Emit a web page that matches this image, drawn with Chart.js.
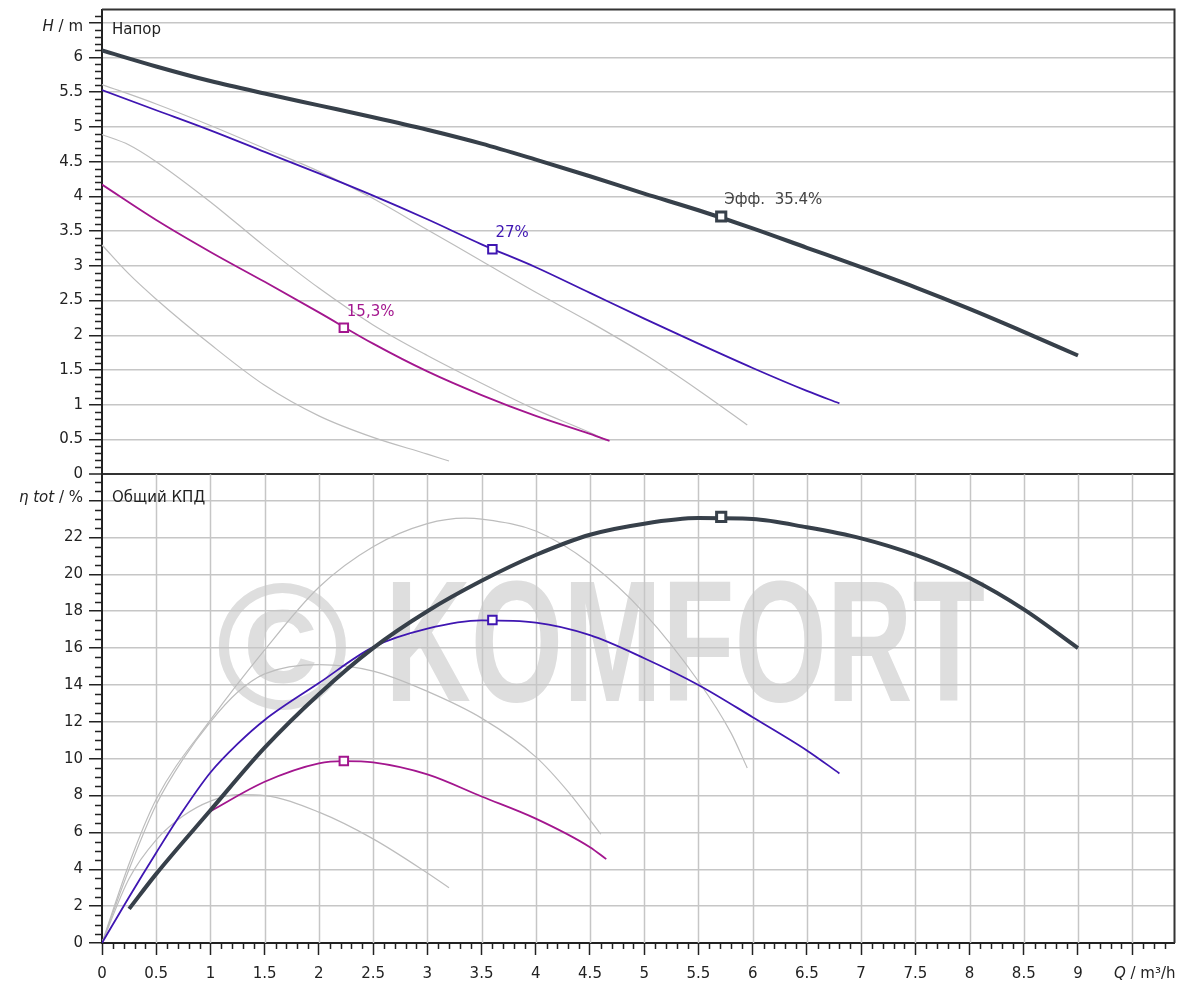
<!DOCTYPE html>
<html>
<head>
<meta charset="utf-8">
<title>Pump curves</title>
<script src="https://cdn.jsdelivr.net/npm/chart.js@4.4.1/dist/chart.umd.min.js"></script>
<style>
  html, body { margin: 0; padding: 0; background: #fff; }
  #wrap { width: 1184px; height: 987px; position: relative; }
</style>
</head>
<body>
<div id="wrap"><canvas id="pumpChart"></canvas></div>
<script>
// head curves, H in m against Q in m³/h
const qDarkH = [0, 0.5, 1, 1.5, 2, 2.5, 3, 3.5, 4, 4.5, 5, 5.5, 6, 6.5, 7, 7.5, 8, 8.5, 9];
const hDark  = [6.1, 5.87, 5.66, 5.48, 5.31, 5.14, 4.96, 4.76, 4.53, 4.29, 4.04, 3.8, 3.54, 3.26, 2.98, 2.69, 2.38, 2.05, 1.71];
const qBlueH = [0, 0.5, 1, 1.5, 2, 2.5, 3, 3.5, 4, 4.5, 5, 5.5, 6, 6.5, 6.8];
const hBlue  = [5.53, 5.24, 4.95, 4.64, 4.33, 4.01, 3.67, 3.31, 2.98, 2.61, 2.24, 1.88, 1.53, 1.2, 1.02];
const qMagH  = [0, 0.5, 1, 1.5, 2, 2.5, 3, 3.5, 4, 4.5, 4.68];
const hMag   = [4.17, 3.66, 3.2, 2.77, 2.33, 1.88, 1.48, 1.14, 0.84, 0.58, 0.48];
const qG1H   = [0, 0.5, 1, 1.5, 2, 2.5, 3, 3.5, 4, 4.5, 5, 5.5, 5.95];
const hG1    = [5.61, 5.33, 5.02, 4.69, 4.36, 3.97, 3.52, 3.07, 2.62, 2.19, 1.73, 1.21, 0.71];
const qG2H   = [0, 0.25, 0.5, 1, 1.5, 2, 2.5, 3, 3.5, 4, 4.5, 4.65];
const hG2    = [4.89, 4.74, 4.5, 3.92, 3.28, 2.68, 2.15, 1.71, 1.31, 0.93, 0.6, 0.49];
const qG3H   = [0, 0.25, 0.5, 1, 1.5, 2, 2.5, 3, 3.2];
const hG3    = [3.3, 2.88, 2.52, 1.87, 1.28, 0.84, 0.53, 0.29, 0.19];

// total efficiency curves, %
const qDarkE = [0.25, 0.5, 1, 1.5, 2, 2.5, 3, 3.5, 4, 4.5, 5, 5.5, 6, 6.5, 7, 7.5, 8, 8.5, 9];
const eDark  = [1.85, 3.75, 7.2, 10.6, 13.5, 16.0, 18.0, 19.65, 21.05, 22.15, 22.75, 23.05, 23.0, 22.55, 21.95, 21.05, 19.8, 18.1, 16.0];
const qBlueE = [0, 0.25, 0.5, 0.75, 1, 1.25, 1.5, 2, 2.5, 3, 3.5, 4, 4.5, 5, 5.5, 6, 6.5, 6.8];
const eBlue  = [0, 2.5, 4.9, 7.2, 9.25, 10.8, 12.1, 14.1, 16.05, 17.05, 17.5, 17.38, 16.7, 15.45, 14.0, 12.25, 10.45, 9.2];
const qMagE  = [1, 1.5, 2, 2.23, 2.5, 3, 3.5, 4, 4.5, 4.65];
const eMag   = [7.15, 8.75, 9.75, 9.87, 9.8, 9.15, 7.95, 6.75, 5.2, 4.55];
const qGAE   = [0, 0.25, 0.5, 1, 1.5, 2, 2.5, 3, 3.35, 3.5, 4, 4.5, 5, 5.5, 5.8, 5.95];
const eGA    = [0, 4.3, 7.8, 12.1, 15.9, 19.3, 21.5, 22.75, 23.05, 23.0, 22.35, 20.6, 17.9, 14.2, 11.4, 9.5];
const qGBE   = [0, 0.25, 0.5, 0.75, 1, 1.25, 1.5, 2, 2.5, 3, 3.5, 4, 4.3, 4.6];
const eGB    = [0, 4.0, 7.5, 10.0, 12.0, 13.6, 14.6, 15.1, 14.75, 13.65, 12.2, 10.1, 8.2, 5.9];
const qGCE   = [0, 0.25, 0.5, 0.75, 1, 1.25, 1.5, 2, 2.5, 3, 3.2];
const eGC    = [0, 3.5, 5.6, 6.9, 7.7, 8.05, 8.0, 7.1, 5.65, 3.8, 3.0];

// duty points
const opQ      = [5.71, 3.6, 2.23];
const opH      = [3.71, 3.24, 2.11];
const opEta    = [23.12, 17.52, 9.87];
const opLabels = ['Эфф.  35.4%', '27%', '15,3%'];

document.addEventListener('DOMContentLoaded', function() {
    const ctx = document.getElementById('pumpChart').getContext('2d');

    const FONT = '"DejaVu Sans", sans-serif';
    const INK = '#222222';
    const GRID = '#c6c6c6';
    const DARK = '#37404a';
    const BLUE = '#3f16b2';
    const MAG = '#a3168e';
    const GRAY = '#bdbdbd';

    Chart.defaults.font.family = FONT;
    Chart.defaults.font.size = 15;
    Chart.defaults.color = INK;

    const pts = (qs, vs) => qs.map((q, i) => ({ x: q, y: vs[i] }));
    const curve = (qs, vs, axis, color, width) => ({
        data: pts(qs, vs),
        yAxisID: axis,
        borderColor: color,
        borderWidth: width,
        pointRadius: 0,
        fill: false,
        cubicInterpolationMode: 'monotone'
    });
    const markers = (vs, axis) => ({
        data: pts(opQ, vs),
        yAxisID: axis,
        showLine: false,
        pointStyle: 'rect',
        pointRadius: [6.5, 6, 6],
        pointBorderWidth: [3, 2, 2],
        pointBackgroundColor: '#ffffff',
        pointBorderColor: [DARK, BLUE, MAG]
    });

    const watermark = {
        id: 'watermark',
        beforeDraw(chart) {
            const c = chart.ctx;
            c.save();
            c.fillStyle = '#dedede';
            c.textBaseline = 'alphabetic';
            c.font = 'bold 180px "Liberation Sans", Arial, sans-serif';
            c.fillText('©', 216, 709);
            c.translate(385, 701);
            c.scale(0.69, 1);
            c.font = 'bold 172px "Liberation Sans", Arial, sans-serif';
            c.fillText('KOMFORT', 0, 0);
            c.restore();
        }
    };

    // vertical grid only in the efficiency panel
    const lowerGrid = {
        id: 'lowerGrid',
        beforeDatasetsDraw(chart) {
            const { ctx: c, scales: { x, yE } } = chart;
            c.save();
            c.strokeStyle = GRID;
            c.lineWidth = 1.5;
            c.beginPath();
            for (let i = 1; i <= 19; i++) {
                const px = Math.round(x.getPixelForValue(i * 0.5)) + 0.5;
                c.moveTo(px, yE.top);
                c.lineTo(px, yE.bottom);
            }
            c.stroke();
            c.restore();
        }
    };

    const mixedText = (c, parts, right, y) => {
        let w = 0;
        parts.forEach(p => { c.font = (p[1] ? 'italic ' : '') + '15px ' + FONT; w += c.measureText(p[0]).width; });
        let xx = right - w;
        c.textAlign = 'left';
        parts.forEach(p => {
            c.font = (p[1] ? 'italic ' : '') + '15px ' + FONT;
            c.fillText(p[0], xx, y);
            xx += c.measureText(p[0]).width;
        });
    };

    const annotations = {
        id: 'annotations',
        afterDraw(chart) {
            const { ctx: c, chartArea: a, scales: { x, yH, yE } } = chart;
            c.save();

            c.strokeStyle = '#333';
            c.lineWidth = 2;
            c.beginPath();
            c.moveTo(a.left, a.top);
            c.lineTo(a.right, a.top);
            c.lineTo(a.right, a.bottom);
            c.stroke();

            // minor ticks
            c.strokeStyle = INK;
            c.lineWidth = 1.5;
            c.beginPath();
            for (let i = 1; i < 100; i++) {
                if (i % 5 === 0) continue;
                const px = Math.round(x.getPixelForValue(i / 10)) + 0.5;
                if (px > a.right - 2) break;
                c.moveTo(px, x.top);
                c.lineTo(px, x.top + 6);
            }
            for (let i = 1; i <= 66; i++) {
                if (i % 5 === 0) continue;
                const py = Math.round(yH.getPixelForValue(i / 10)) + 0.5;
                c.moveTo(yH.right, py);
                c.lineTo(yH.right - 7, py);
            }
            for (let i = 1; i <= 50; i++) {
                if (i % 4 === 0) continue;
                const py = Math.round(yE.getPixelForValue(i / 2)) + 0.5;
                c.moveTo(yE.right, py);
                c.lineTo(yE.right - 7, py);
            }
            c.stroke();

            c.fillStyle = INK;
            c.textBaseline = 'middle';
            c.textAlign = 'left';
            c.font = '15px ' + FONT;
            c.fillText('Напор', a.left + 10, a.top + 21);
            c.fillText('Общий КПД', a.left + 10, yE.top + 24);

            mixedText(c, [['H', true], [' / m', false]], yH.right - 19, yH.getPixelForValue(6.5) + 4);
            mixedText(c, [['η tot', true], [' / %', false]], yE.right - 19, yE.getPixelForValue(24) - 3);
            mixedText(c, [['Q', true], [' / m³/h', false]], a.right + 1, 974);

            const colors = ['#444444', BLUE, MAG];
            c.font = '15px ' + FONT;
            c.textAlign = 'left';
            opQ.forEach((q, i) => {
                c.fillStyle = colors[i];
                c.fillText(opLabels[i], x.getPixelForValue(q) + 3, yH.getPixelForValue(opH[i]) - 16);
            });
            c.restore();
        }
    };

    // fixed axis box, no extra room for half labels
    const fitWidth = function(scale) {
        scale.width = 102;
        scale.paddingTop = 0;
        scale.paddingBottom = 0;
    };

    new Chart(ctx, {
        type: 'line',
        data: {
            datasets: [
                markers(opH, 'yH'),
                markers(opEta, 'yE'),
                curve(qDarkH, hDark, 'yH', DARK, 4),
                curve(qDarkE, eDark, 'yE', DARK, 4),
                curve(qBlueH, hBlue, 'yH', BLUE, 1.8),
                curve(qBlueE, eBlue, 'yE', BLUE, 1.8),
                curve(qMagH, hMag, 'yH', MAG, 1.8),
                curve(qMagE, eMag, 'yE', MAG, 1.8),
                curve(qG1H, hG1, 'yH', GRAY, 1.2),
                curve(qG2H, hG2, 'yH', GRAY, 1.2),
                curve(qG3H, hG3, 'yH', GRAY, 1.2),
                curve(qGAE, eGA, 'yE', GRAY, 1.2),
                curve(qGBE, eGB, 'yE', GRAY, 1.2),
                curve(qGCE, eGC, 'yE', GRAY, 1.2)
            ]
        },
        options: {
            responsive: true,
            maintainAspectRatio: false,
            animation: false,
            layout: { padding: { top: 9, right: 8, left: 0, bottom: 0 } },
            plugins: {
                legend: { display: false },
                tooltip: { enabled: false }
            },
            scales: {
                x: {
                    type: 'linear',
                    min: 0,
                    max: 9.89,
                    ticks: {
                        stepSize: 0.5,
                        maxTicksLimit: 100,
                        includeBounds: false,
                        autoSkip: false,
                        maxRotation: 0,
                        padding: 10,
                        color: INK,
                        callback: v => v === 9.5 ? '' : String(v)
                    },
                    grid: { drawOnChartArea: false, tickLength: 12, tickColor: INK, tickWidth: 1.5 },
                    border: { color: INK, width: 2 },
                    afterFit: function(scale) {
                        scale.height = 44;
                        scale.paddingLeft = 0;
                        scale.paddingRight = 0;
                    }
                },
                yH: {
                    type: 'linear',
                    position: 'left',
                    stack: 'panels',
                    stackWeight: 465,
                    weight: 2,
                    min: 0,
                    max: 6.69,
                    ticks: {
                        stepSize: 0.5,
                        maxTicksLimit: 100,
                        autoSkip: false,
                        includeBounds: false,
                        padding: 6,
                        color: INK,
                        callback: v => v === 6.5 ? '' : String(v)
                    },
                    grid: {
                        color: c => c.tick && c.tick.value === 0 ? '#333' : GRID,
                        lineWidth: c => c.tick && c.tick.value === 0 ? 2 : 1.5,
                        tickLength: 13,
                        tickColor: INK,
                        tickWidth: 1.5
                    },
                    border: { color: INK, width: 2 },
                    afterFit: fitWidth
                },
                yE: {
                    type: 'linear',
                    position: 'left',
                    stack: 'panels',
                    stackWeight: 469,
                    weight: 1,
                    min: 0,
                    max: 25.43,
                    ticks: {
                        stepSize: 2,
                        maxTicksLimit: 100,
                        autoSkip: false,
                        includeBounds: false,
                        padding: 6,
                        color: INK,
                        callback: v => v === 24 ? '' : String(v)
                    },
                    grid: {
                        color: GRID,
                        lineWidth: 1.5,
                        tickLength: 13,
                        tickColor: INK,
                        tickWidth: 1.5
                    },
                    border: { color: INK, width: 2 },
                    afterFit: fitWidth
                }
            }
        },
        plugins: [watermark, lowerGrid, annotations]
    });
});
</script>
</body>
</html>
